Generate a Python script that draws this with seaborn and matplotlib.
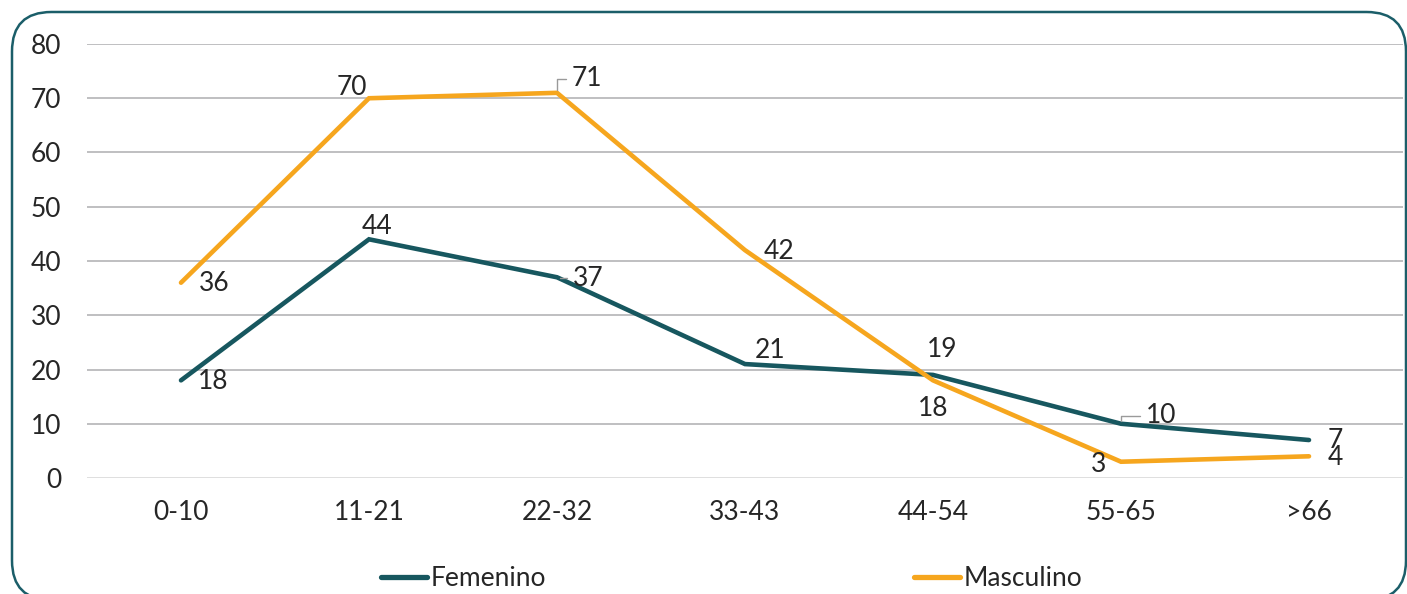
import matplotlib
matplotlib.use("Agg")
import matplotlib.pyplot as plt
import seaborn as sns
import pandas as pd
from matplotlib.patches import FancyBboxPatch
from matplotlib.lines import Line2D

categories = ["0-10", "11-21", "22-32", "33-43", "44-54", "55-65", ">66"]
femenino = [18, 44, 37, 21, 19, 10, 7]
masculino = [36, 70, 71, 42, 18, 3, 4]
series_names = ["Femenino", "Masculino"]
yticks = [0, 10, 20, 30, 40, 50, 60, 70, 80]

teal = "#17575F"
orange = "#F6A61E"
text_col = "#262626"
FS = 19

sns.set_theme(style="white")
plt.rcParams["font.family"] = ["Lato", "DejaVu Sans"]

df = pd.DataFrame({
    "cat": categories * 2,
    "x": list(range(len(categories))) * 2,
    "value": femenino + masculino,
    "serie": [series_names[0]] * len(categories) + [series_names[1]] * len(categories),
})

fig = plt.figure(figsize=(14.07, 5.94), dpi=100)
ax = fig.add_axes([87 / 1407, 1 - 478 / 594, (1403 - 87) / 1407, (478 - 44) / 594])

sns.lineplot(data=df, x="x", y="value", hue="serie", palette=[teal, orange],
             linewidth=3.3, ax=ax, legend=False, sort=False)
for ln in ax.get_lines():
    ln.set_solid_capstyle("round")
    ln.set_solid_joinstyle("miter")

ax.set_xlim(-0.5, len(categories) - 0.5)
ax.set_ylim(0, 80)
ax.set_yticks(yticks)
ax.set_xticks(range(len(categories)))
ax.set_xticklabels(categories)
ax.set_xlabel("")
ax.set_ylabel("")
for s in ax.spines.values():
    s.set_visible(False)
ax.grid(False)
for y in yticks:
    ax.axhline(y, color="#D6D6D6" if y == 0 else "#ADADB0", lw=1.1, zorder=0.5)
ax.tick_params(axis="both", length=0, labelsize=FS, colors=text_col)
ax.tick_params(axis="y", pad=18.5)
ax.tick_params(axis="x", pad=16)

# data labels: (dx, dy) offsets in pixels from the data point to the label centre
fem_offsets = [(32, -1), (8, 13), (31, -1), (25, 14), (9, 25), (40, 8), (26, 0)]
mas_offsets = [(33, -1), (-17, 11), (30, 14), (34, -1), (0, -28), (-22, -3), (26, -1)]
leader_fem = {2, 5}
leader_mas = {2}

def label(series, offsets, leaders):
    for i, (v, (dx, dy)) in enumerate(zip(series, offsets)):
        kw = {}
        if i in leaders:
            kw["arrowprops"] = dict(arrowstyle="-", color="#9A9A9A", lw=1.0,
                                    connectionstyle="angle,angleA=0,angleB=90,rad=0",
                                    shrinkA=2, shrinkB=2)
        ax.annotate(str(v), xy=(i, v), xytext=(dx, dy), textcoords="offset pixels",
                    ha="center", va="center", fontsize=FS, color=text_col, **kw)

label(femenino, fem_offsets, leader_fem)
label(masculino, mas_offsets, leader_mas)

# legend, placed like the bottom-clipped legend of the reference
handles = [Line2D([0], [0], color=teal, lw=3.8, solid_capstyle="round"),
           Line2D([0], [0], color=orange, lw=3.8, solid_capstyle="round")]
legs = []
for h, name, xpx in zip(handles, series_names, [381, 914]):
    lg = fig.legend([h], [name], loc="center left",
                    bbox_to_anchor=(xpx / 1407, 1 - 579 / 594), frameon=False,
                    fontsize=FS, handlelength=1.75, handletextpad=0.12,
                    borderaxespad=0, borderpad=0)
    for t in lg.get_texts():
        t.set_color(text_col)
    legs.append(lg)

# rounded border
border = FancyBboxPatch((12 / 1407, 1 - 600 / 594), (1406 - 12) / 1407, (600 - 12) / 594,
                        boxstyle="round,pad=0,rounding_size=0.028",
                        transform=fig.transFigure, fill=False,
                        edgecolor="#1B5E69", lw=1.8, mutation_aspect=1407 / 594,
                        clip_on=False)
fig.patches.append(border)

fig.savefig("out.png", dpi=100)
